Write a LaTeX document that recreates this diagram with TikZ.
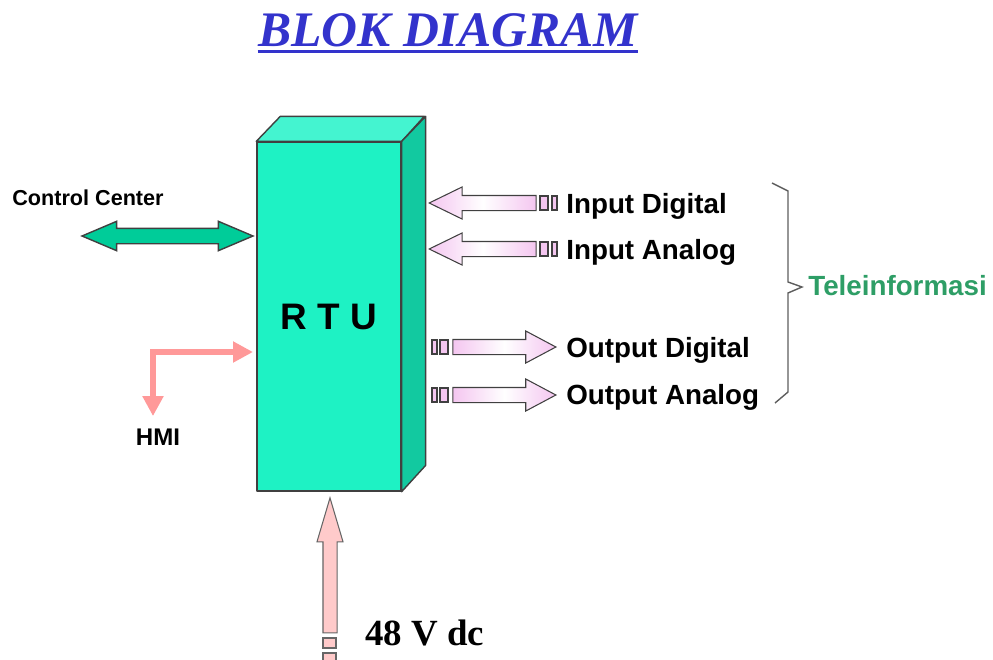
\documentclass[tikz,border=0pt]{standalone}
\usepackage{fontspec}
\setmainfont{Liberation Serif}
\setsansfont{Liberation Sans}
\usetikzlibrary{arrows.meta,shapes.arrows}
\definecolor{Edge}{HTML}{404040}
\definecolor{Front}{HTML}{1EF2C4}
\definecolor{Top}{HTML}{44F4D0}
\definecolor{Side}{HTML}{12C9A0}
\definecolor{Lilac}{HTML}{F4C6F0}
\definecolor{CCGreen}{HTML}{00CC99}
\definecolor{HMIPink}{HTML}{FF9999}
\definecolor{PowerPink}{HTML}{FFCACA}
\definecolor{TitleBlue}{HTML}{3333CC}
\definecolor{TeleGreen}{HTML}{2E9E66}

\begin{document}
\begin{tikzpicture}[
  x=0.02cm,y=-0.02cm,
  face/.style={draw=Edge,line width=0.8pt,line join=round},
  lbl/.style={font=\sffamily\bfseries\fontsize{15.8}{18}\selectfont,anchor=base west,inner sep=0pt},
  inarrow/.style={single arrow,draw=Edge,line width=0.6pt,left color=Lilac,right color=Lilac,middle color=white,
    minimum height=2.14cm,single arrow head extend=0.17cm,single arrow tip angle=52,
    single arrow head indent=0pt,inner xsep=0pt,inner ysep=0.14cm,shape border rotate=180,anchor=tip},
  outarrow/.style={inarrow,minimum height=2.06cm,single arrow tip angle=56,shape border rotate=0},
  stub/.style={draw=Edge,line width=0.6pt,fill=Lilac,inner sep=0pt,minimum height=0.28cm},
  ccarrow/.style={double arrow,draw=Edge,line width=0.8pt,fill=CCGreen,minimum height=3.42cm,
    double arrow head extend=0.14cm,double arrow tip angle=46,double arrow head indent=0pt,inner xsep=0pt,inner ysep=0.14cm},
  hmiarrow/.style={{Triangle[length=0.4cm,width=0.4cm]}-{Triangle[length=0.4cm,width=0.4cm]},HMIPink,line width=0.12cm},
  powerarrow/.style={single arrow,draw=Edge!80,line width=0.6pt,fill=PowerPink,minimum height=2.7cm,
    single arrow head extend=0.12cm,single arrow tip angle=33,single arrow head indent=0pt,inner xsep=0.13cm,inner ysep=0pt,
    shape border rotate=90,anchor=tip},
  powerstub/.style={draw=Edge!80,line width=0.6pt,fill=PowerPink,inner sep=0pt,minimum width=0.26cm,minimum height=0.2cm},
  brace/.style={draw=Edge!85,line width=0.8pt,line join=miter}
]
\useasboundingbox (0,0) rectangle (993,659);

% title
\node[font=\rmfamily\bfseries\itshape\fontsize{28.3}{32}\selectfont,text=TitleBlue,inner sep=0pt,anchor=base] (title) at (448,46) {BLOK DIAGRAM};
\draw[TitleBlue,line width=0.06cm] ([yshift=-0.11cm]title.base west) -- ([yshift=-0.11cm]title.base east);

% RTU block
\node[face,fill=Front,minimum width=2.88cm,minimum height=6.98cm,inner sep=0pt,
  font=\sffamily\bfseries\fontsize{21}{24}\selectfont] (rtu) at (329,316.5) {R T U};
\draw[face,fill=Top] (rtu.north west) -- ++(24,-25) -- ++(144,0) -- (rtu.north east) -- cycle;
\draw[face,fill=Side] (rtu.north east) -- ++(24,-25) -- ++(0,349) -- (rtu.south east) -- cycle;

% control center
\node[font=\sffamily\bfseries\fontsize{12.3}{14}\selectfont,anchor=base west,inner sep=0pt] (cclabel) at (12,205) {Control Center};
\node[ccarrow] (cc) at (167.5,236) {};

% HMI
\node[font=\sffamily\bfseries\fontsize{13.7}{16}\selectfont,inner sep=0pt,anchor=base] (hmi) at (158,445) {HMI};
\coordinate (hmiin) at (253,352);
\draw[hmiarrow] ([shift={(-5,-12)}]hmi.north) |- (hmiin);

% inputs
\node[inarrow] (indig) at (428,203) {};
\node[stub,minimum width=0.16cm] (indigs1) at (544,203) {};
\node[stub,minimum width=0.1cm] (indigs2) at (554.5,203) {};
\node[lbl] (indiglbl) at (566,213) {Input Digital};

\node[inarrow] (inana) at (428,249) {};
\node[stub,minimum width=0.16cm] (inanas1) at (544,249) {};
\node[stub,minimum width=0.1cm] (inanas2) at (554.5,249) {};
\node[lbl] (inanalbl) at (566,259) {Input Analog};

% outputs
\node[outarrow] (outdig) at (557,347) {};
\node[stub,minimum width=0.1cm] (outdigs1) at (434.5,347) {};
\node[stub,minimum width=0.16cm] (outdigs2) at (444,347) {};
\node[lbl] (outdiglbl) at (566,357) {Output Digital};

\node[outarrow] (outana) at (557,395) {};
\node[stub,minimum width=0.1cm] (outanas1) at (434.5,395) {};
\node[stub,minimum width=0.16cm] (outanas2) at (444,395) {};
\node[lbl] (outanalbl) at (566,404) {Output Analog};

% brace
\draw[brace] (772,183) -- (788,191) -- (788,282) -- (802,287) -- (788,293) -- (788,392) -- (775,403);
\node[lbl,text=TeleGreen] (tele) at (808,295) {Teleinformasi};

% power supply
\node[powerarrow] (power) at (330,496) {};
\node[powerstub] (powers1) at (329.5,643) {};
\node[powerstub] (powers2) at (329.5,658) {};
\node[font=\rmfamily\bfseries\fontsize{21}{24}\selectfont,inner sep=0pt,anchor=base west] (powerlbl) at (365,645) {48 V dc};
\end{tikzpicture}
\end{document}
